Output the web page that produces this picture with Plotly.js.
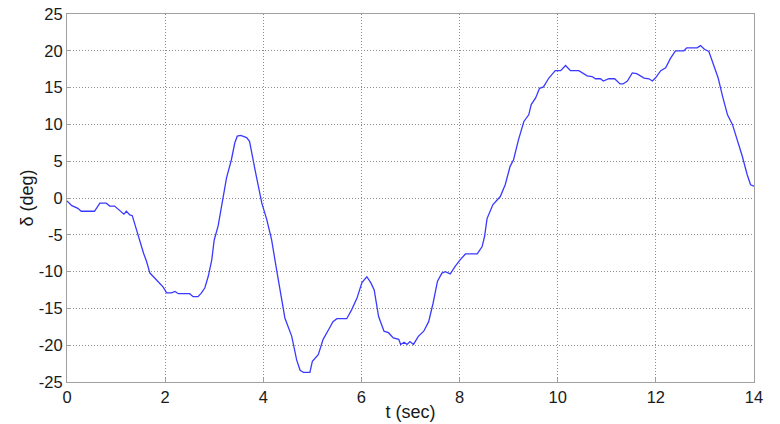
<!DOCTYPE html>
<html>
<head>
<meta charset="utf-8">
<script src="https://cdn.plot.ly/plotly-3.0.1.min.js"></script>
<style>
  html, body { margin: 0; padding: 0; background: #fff; }
  #chart { width: 780px; height: 424px; }
</style>
</head>
<body>
<div id="chart"></div>
<script>
// Steering angle delta (deg) versus time t (sec)
const timeSec = [
  0, 0.09, 0.22, 0.29, 0.56, 0.67, 0.80, 0.87, 0.97, 1.07, 1.16, 1.21, 1.28, 1.33,
  1.41, 1.48, 1.56, 1.62, 1.69, 1.82, 1.96, 2.03, 2.13, 2.20, 2.27, 2.50, 2.57, 2.67,
  2.74, 2.81, 2.88, 2.95, 3.00, 3.08, 3.17, 3.25, 3.35, 3.42, 3.47, 3.54, 3.66, 3.72,
  3.83, 3.97, 4.07, 4.17, 4.27, 4.44, 4.58, 4.68, 4.75, 4.82, 4.95, 5.00, 5.12, 5.22,
  5.33, 5.42, 5.50, 5.70, 5.80, 5.91, 6.01, 6.11, 6.19, 6.26, 6.35, 6.46, 6.55, 6.65,
  6.76, 6.80, 6.87, 6.93, 6.99, 7.06, 7.16, 7.27, 7.37, 7.46, 7.55, 7.64, 7.71, 7.81,
  7.91, 8.01, 8.12, 8.36, 8.46, 8.51, 8.56, 8.68, 8.83, 8.93, 9.03, 9.10, 9.20, 9.31,
  9.41, 9.46, 9.55, 9.63, 9.71, 9.82, 9.95, 10.06, 10.16, 10.26, 10.43, 10.60, 10.70,
  10.77, 10.87, 10.93, 11.04, 11.16, 11.27, 11.33, 11.42, 11.52, 11.61, 11.76, 11.86,
  11.93, 11.99, 12.10, 12.20, 12.30, 12.40, 12.57, 12.63, 12.84, 12.91, 12.99, 13.08,
  13.18, 13.27, 13.36, 13.46, 13.56, 13.66, 13.76, 13.86, 13.93, 14.0
];
const deltaDeg = [
  -0.4, -1.0, -1.4, -1.8, -1.8, -0.7, -0.7, -1.1, -1.1, -1.7, -2.2, -1.8, -2.3, -2.4,
  -4.3, -5.7, -7.5, -8.6, -10.2, -11.1, -12.1, -12.9, -12.9, -12.7, -13.0, -13.0, -13.4, -13.4,
  -12.9, -12.2, -10.6, -8.4, -5.7, -3.8, -0.2, 2.7, 5.2, 7.5, 8.4, 8.5, 8.2, 7.7,
  3.9, -0.7, -2.9, -5.7, -9.7, -16.3, -18.8, -22.0, -23.4, -23.7, -23.7, -22.2, -21.3, -19.2,
  -17.9, -16.8, -16.4, -16.4, -15.2, -13.6, -11.5, -10.7, -11.5, -12.5, -16.1, -18.1, -18.3, -19.0,
  -19.2, -19.9, -19.6, -19.9, -19.5, -19.9, -18.8, -18.1, -16.8, -14.3, -11.3, -10.2, -10.0, -10.3,
  -9.3, -8.4, -7.6, -7.6, -6.6, -5.2, -2.8, -0.9, 0.2, 1.8, 4.3, 5.2, 7.9, 10.4,
  11.3, 12.7, 13.6, 14.9, 15.1, 16.3, 17.3, 17.3, 18.0, 17.3, 17.3, 16.6, 16.5,
  16.2, 16.2, 15.9, 16.2, 16.2, 15.5, 15.5, 15.9, 17.0, 16.9, 16.3, 16.2,
  15.9, 16.3, 17.3, 17.7, 19.0, 20.0, 20.0, 20.4, 20.4, 20.7, 20.2, 19.9,
  18.1, 16.3, 13.8, 11.3, 10.0, 7.9, 5.7, 3.2, 1.8, 1.6
];
const xTicks = [0, 2, 4, 6, 8, 10, 12, 14];
const yTicks = [-25, -20, -15, -10, -5, 0, 5, 10, 15, 20, 25];

const fontFamily = 'Liberation Sans, Arial, sans-serif';

const axisCommon = {
  showline: true,
  mirror: true,
  linecolor: '#a0a0a0',
  linewidth: 1,
  showgrid: true,
  gridcolor: '#8c8c8c',
  griddash: '1px,2px',
  gridwidth: 1,
  zeroline: false,
  ticks: 'inside',
  ticklen: 4,
  tickcolor: '#a0a0a0',
  tickfont: { family: fontFamily, size: 16.5, color: '#1a1a1a' }
};

const trace = {
  x: timeSec,
  y: deltaDeg,
  type: 'scatter',
  mode: 'lines',
  line: { color: '#3a3aff', width: 1.3 },
  hoverinfo: 'skip'
};

const layout = {
  width: 780,
  height: 424,
  margin: { l: 67, r: 26, t: 14, b: 42 },
  paper_bgcolor: '#ffffff',
  plot_bgcolor: '#ffffff',
  showlegend: false,
  xaxis: Object.assign({}, axisCommon, {
    range: [0, 14],
    tickvals: xTicks,
    ticktext: xTicks.map(String),
    title: { text: 't (sec)', standoff: 0,
             font: { family: fontFamily, size: 18, color: '#1a1a1a' } }
  }),
  yaxis: Object.assign({}, axisCommon, {
    range: [-25, 25],
    tickvals: yTicks,
    ticktext: yTicks.map(String),
    title: { text: 'δ (deg)', standoff: 0,
             font: { family: fontFamily, size: 18, color: '#1a1a1a' } }
  })
};

Plotly.newPlot('chart', [trace], layout, { staticPlot: true, displayModeBar: false });
</script>
</body>
</html>
